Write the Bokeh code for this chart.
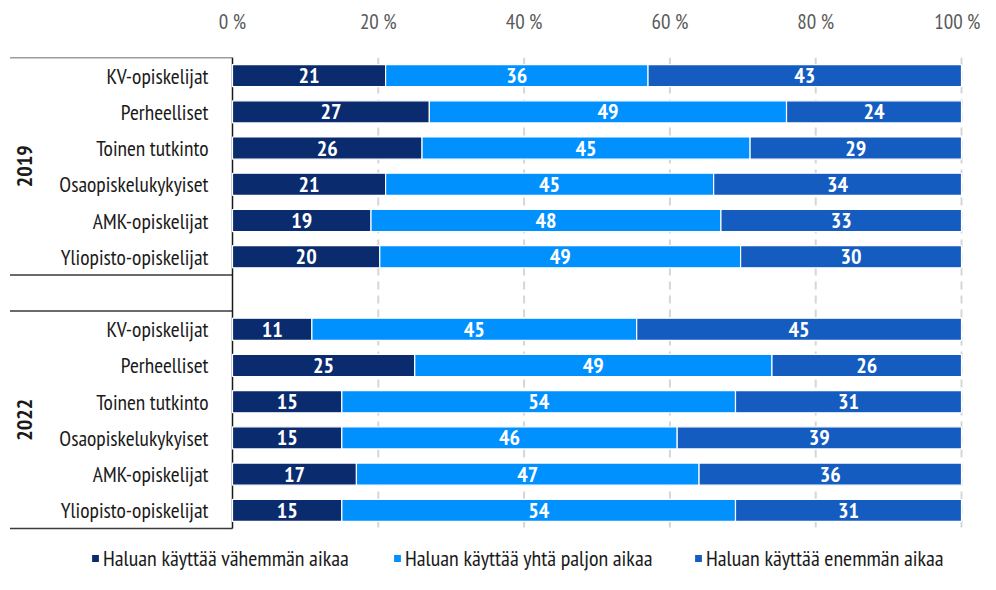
import math
from bokeh.plotting import figure
from bokeh.models import Range1d, FixedTicker, ColumnDataSource, Legend, LegendItem
from bokeh.core.properties import value
from bokeh.embed import file_html
from bokeh.resources import INLINE

# ---------------- data ----------------
categories = ["KV-opiskelijat", "Perheelliset", "Toinen tutkinto",
              "Osaopiskelukykyiset", "AMK-opiskelijat", "Yliopisto-opiskelijat"]
years = ["2019", "2022"]

less_2019 = [21, 27, 26, 21, 19, 20]
same_2019 = [36, 49, 45, 45, 48, 49]
more_2019 = [43, 24, 29, 34, 33, 30]

less_2022 = [11, 25, 15, 15, 17, 15]
same_2022 = [45, 49, 54, 46, 47, 54]
more_2022 = [45, 26, 31, 39, 36, 31]

series_names = ["Haluan käyttää vähemmän aikaa",
                "Haluan käyttää yhtä paljon aikaa",
                "Haluan käyttää enemmän aikaa"]
series_colors = ["#0a2b6e", "#0091ff", "#145cc0"]

x_ticks = [0, 20, 40, 60, 80, 100]
x_tick_labels = ["0 %", "20 %", "40 %", "60 %", "80 %", "100 %"]

# ---------------- layout constants ----------------
FONT = "'PT Sans Narrow', 'Fira Sans Condensed', 'Roboto Condensed', 'Archivo Narrow', sans-serif"
W = 980
H = 574
ZERO_PX = 232               # pixel of 0 %
HUNDRED_PX = 961            # pixel of 100 %
PX_PER_UNIT = (HUNDRED_PX - ZERO_PX) / 100.0
RIGHT_BORDER = 13
TOP = 57                    # frame top (first row's upper edge)
ROW_PX = 36.23

x_start = -ZERO_PX / PX_PER_UNIT
x_end = (W - RIGHT_BORDER - ZERO_PX) / PX_PER_UNIT
y_end = 0.5
y_start = 0.5 - (H - TOP) / ROW_PX

p = figure(width=W, height=H, output_backend="svg", toolbar_location=None,
           x_range=Range1d(x_start, x_end), y_range=Range1d(y_start, y_end),
           x_axis_location="above", y_axis_location=None,
           min_border_left=0, min_border_right=RIGHT_BORDER, min_border_top=TOP,
           min_border_bottom=0, outline_line_color=None)
p.grid.visible = False
p.background_fill_color = "white"
p.border_fill_color = "white"

ax = p.xaxis[0]
ax.ticker = FixedTicker(ticks=x_ticks)
ax.major_label_overrides = {t: l for t, l in zip(x_ticks, x_tick_labels)}
ax.axis_line_color = None
ax.major_tick_line_color = None
ax.minor_tick_line_color = None
ax.major_tick_out = 0
ax.major_tick_in = 0
ax.major_label_standoff = 23
ax.major_label_text_font = FONT
ax.major_label_text_font_size = "21px"
ax.major_label_text_color = "#5a5a5a"

# ---------------- rows ----------------
values_by_year = {
    "2019": [less_2019, same_2019, more_2019],
    "2022": [less_2022, same_2022, more_2022],
}
n_cat = len(categories)
row_y, row_cat = [], []
series_cols = [dict(y=[], left=[], right=[], mid=[], label=[]) for _ in series_names]
group_y = []
for gi, year in enumerate(years):
    start_row = gi * (n_cat + 1)
    group_y.append(-(start_row + (n_cat - 1) / 2))
    vals = values_by_year[year]
    for ci, cat in enumerate(categories):
        y = -(start_row + ci)
        row_y.append(y)
        row_cat.append(cat)
        total = sum(v[ci] for v in vals)
        left = 0.0
        for si in range(len(series_names)):
            share = vals[si][ci] * 100.0 / total
            c = series_cols[si]
            c["y"].append(y)
            c["left"].append(left)
            c["right"].append(left + share)
            c["mid"].append(left + share / 2)
            c["label"].append(str(vals[si][ci]))
            left += share

top_edge = 0.5
bottom_edge = -(len(years) * (n_cat + 1) - 1) + 0.5

# dashed vertical gridlines
grid_x = [t for t in x_ticks if t > 0]
p.segment(x0=grid_x, x1=grid_x, y0=[top_edge] * len(grid_x),
          y1=[bottom_edge - 0.06] * len(grid_x),
          line_color="#d6d6d6", line_width=2, line_dash="8 6")

# group separators on the left
sep_y = []
for gi in range(len(years)):
    start_row = gi * (n_cat + 1)
    sep_y += [-(start_row) + 0.5, -(start_row + n_cat - 1) - 0.5]
sep_x0 = (9.5 - ZERO_PX) / PX_PER_UNIT
p.segment(x0=[sep_x0] * len(sep_y), x1=[0] * len(sep_y), y0=sep_y, y1=sep_y,
          line_color="#3a3a3a", line_width=1.5)
# category axis line
p.segment(x0=[0], x1=[0], y0=[top_edge], y1=[bottom_edge],
          line_color="#1a1a1a", line_width=1.5)

# bars
renderers = []
for si, name in enumerate(series_names):
    src = ColumnDataSource(series_cols[si])
    r = p.hbar(y="y", left="left", right="right", height=0.61, source=src,
               fill_color=series_colors[si], line_color="white", line_width=1.2)
    renderers.append(r)
    p.text(x="mid", y="y", text="label", source=src,
           text_color="white", text_font=value(FONT), text_font_style="bold",
           text_font_size="22px", text_align="center", text_baseline="middle")

# category labels
p.text(x=[0] * len(row_y), y=row_y, text=row_cat, x_offset=-24,
       text_color="#1a1a1a", text_font=value(FONT), text_font_size="21.5px",
       text_align="right", text_baseline="middle")

# group (year) labels
p.text(x=[(23.5 - ZERO_PX) / PX_PER_UNIT] * len(years), y=group_y, text=years,
       angle=math.pi / 2, text_color="#1a1a1a", text_font=value(FONT),
       text_font_style="bold", text_font_size="22px",
       text_align="center", text_baseline="middle")

# legends, one per item at its own position
legend_x = [90, 392, 693]
for si, name in enumerate(series_names):
    lg = Legend(items=[LegendItem(label=name, renderers=[renderers[si]])],
                location=(legend_x[si], 2), orientation="horizontal",
                padding=0, margin=0, spacing=0,
                glyph_width=10, glyph_height=10, label_standoff=3,
                label_height=18, label_text_font=FONT,
                label_text_font_size="22px", label_text_color="#1a1a1a",
                label_text_baseline="middle",
                border_line_color=None, background_fill_alpha=0)
    p.add_layout(lg)

open("out.html", "w").write(file_html(p, INLINE))
